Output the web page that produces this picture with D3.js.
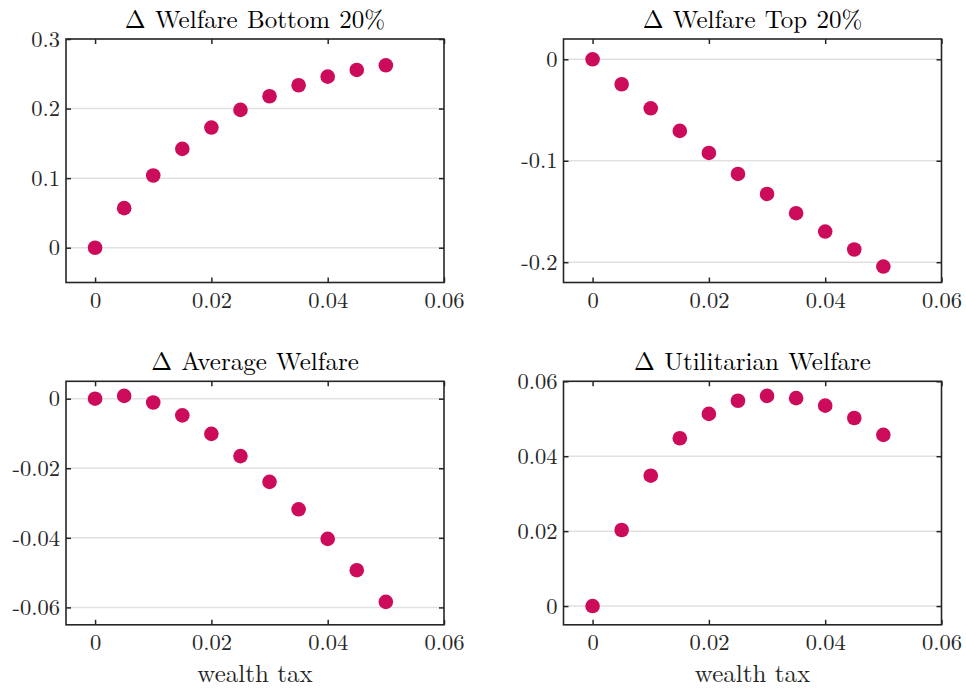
<!DOCTYPE html>
<html>
<head>
<meta charset="utf-8">
<script src="https://cdn.jsdelivr.net/npm/d3@7"></script>
<style>
  body { margin: 0; background: #fff; }
  text { font-family: "Latin Modern Roman", "Liberation Serif", serif; fill: #262626; }
  .title { font-size: 25px; fill: #000; word-spacing: 1px; }
  .axis_label { font-size: 25px; }
</style>
</head>
<body>
<div id="viz"></div>
<script>
var taxRate = [0, 0.005, 0.01, 0.015, 0.02, 0.025, 0.03, 0.035, 0.04, 0.045, 0.05];

var bottom20 = [0, 0.0569, 0.1038, 0.1421, 0.1727, 0.1981, 0.2177, 0.2335, 0.2459, 0.2555, 0.2622];
var top20 = [0, -0.0246, -0.0483, -0.0706, -0.0923, -0.1130, -0.1327, -0.1517, -0.1698, -0.1875, -0.2043];
var average = [0, 0.0008, -0.0011, -0.0048, -0.0101, -0.0165, -0.0239, -0.0318, -0.0403, -0.0493, -0.0584];
var utilitarian = [0, 0.0203, 0.0348, 0.0448, 0.0513, 0.0548, 0.0561, 0.0555, 0.0535, 0.0502, 0.0457];

var titles = ['\u0394 Welfare Bottom 20%', '\u0394 Welfare Top 20%', '\u0394 Average Welfare', '\u0394 Utilitarian Welfare'];
var xTicks = [0, 0.02, 0.04, 0.06];
var yTicks = [
    [0, 0.1, 0.2, 0.3],
    [-0.2, -0.1, 0],
    [-0.06, -0.04, -0.02, 0],
    [0, 0.02, 0.04, 0.06]
];
var yDomains = [[-0.05, 0.3], [-0.22, 0.02], [-0.065, 0.005], [-0.005, 0.06]];
var series = [bottom20, top20, average, utilitarian];
var xLabel = 'wealth tax';

var width = 966, height = 688;
var boxW = 378, boxH = 243.5;
var lefts = [66, 563.5], tops = [39, 381.3];
var dotColor = '#cc0c5a', axisColor = '#262626', gridColor = '#e1e1e1';
var serif = '"Latin Modern Roman", "Liberation Serif", serif';

var svg = d3.select('#viz')
    .append('svg')
    .attr('width', width)
    .attr('height', height);

function fmt(v) {
    var s = d3.format('~g')(+v.toFixed(4));
    return s.replace('\u2212', '-');
}

series.forEach(function(values, i) {
    var col = i % 2, row = Math.floor(i / 2);
    var g = svg.append('g')
        .attr('transform', 'translate(' + lefts[col] + ',' + tops[row] + ')');

    var x = d3.scaleLinear().domain([-0.005, 0.06]).range([0, boxW]);
    var y = d3.scaleLinear().domain(yDomains[i]).range([boxH, 0]);

    // horizontal grid
    g.append('g').selectAll('line')
        .data(yTicks[i]).enter()
        .append('line')
        .attr('x1', 0).attr('x2', boxW)
        .attr('y1', function(d) { return y(d); })
        .attr('y2', function(d) { return y(d); })
        .attr('stroke', gridColor)
        .attr('stroke-width', 1.5);

    // axes on all four sides, ticks pointing inward
    var axB = g.append('g').attr('transform', 'translate(0,' + boxH + ')')
        .call(d3.axisBottom(x).tickValues(xTicks).tickSizeInner(-5).tickSizeOuter(0).tickFormat(fmt));
    var axT = g.append('g')
        .call(d3.axisTop(x).tickValues(xTicks).tickSizeInner(-5).tickSizeOuter(0).tickFormat(''));
    var axL = g.append('g')
        .call(d3.axisLeft(y).tickValues(yTicks[i]).tickSizeInner(-5).tickSizeOuter(0).tickFormat(fmt));
    var axR = g.append('g').attr('transform', 'translate(' + boxW + ',0)')
        .call(d3.axisRight(y).tickValues(yTicks[i]).tickSizeInner(-5).tickSizeOuter(0).tickFormat(''));

    [axB, axT, axL, axR].forEach(function(ax) {
        ax.select('.domain').remove();
        ax.selectAll('line').attr('stroke', axisColor).attr('stroke-width', 1.5);
        ax.selectAll('text')
            .style('font-family', serif)
            .style('font-size', '22.5px')
            .style('fill', axisColor);
    });
    axB.selectAll('text').attr('dy', null).attr('y', 25.5);
    axL.selectAll('text').attr('x', -6).attr('dy', '0.32em');

    // dots
    g.append('g').selectAll('circle')
        .data(values).enter()
        .append('circle')
        .attr('cx', function(d, j) { return x(taxRate[j]); })
        .attr('cy', function(d) { return y(d); })
        .attr('r', 7.3)
        .attr('fill', dotColor);

    // box
    g.append('rect')
        .attr('width', boxW).attr('height', boxH)
        .attr('fill', 'none')
        .attr('stroke', axisColor)
        .attr('stroke-width', 1.6);

    g.append('text')
        .text(titles[i])
        .attr('class', 'title')
        .attr('text-anchor', 'middle')
        .attr('x', boxW / 2)
        .attr('y', -11.5);

    if (row == 1) {
        g.append('text')
            .text(xLabel)
            .attr('class', 'axis_label')
            .attr('text-anchor', 'middle')
            .attr('x', boxW / 2)
            .attr('y', boxH + 57.5);
    }
});
</script>
</body>
</html>
